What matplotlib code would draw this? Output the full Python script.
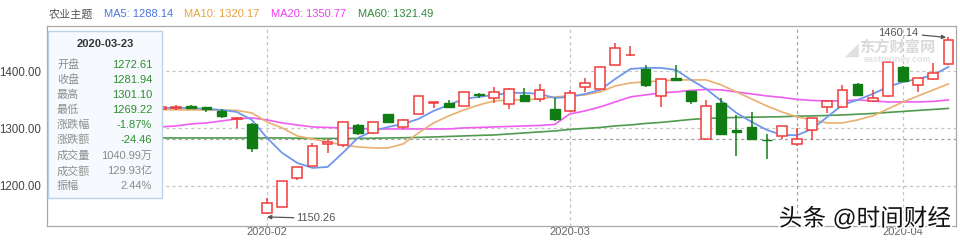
import matplotlib
matplotlib.use("Agg")
import matplotlib.pyplot as plt
import matplotlib.patheffects as pe
from matplotlib.patches import Rectangle

plt.rcParams['font.family'] = ['Liberation Sans', 'Noto Sans CJK SC', 'DejaVu Sans']

# ---------------- data ----------------
# trading-day index, 0 = 2020-02-03
day_index = list(range(-7, 46))
opens = [1334.5, 1336, 1339.5, 1337.6, 1330.6, 1316, 1308,
         1152.5, 1163, 1213.5, 1234.4, 1273, 1271, 1306, 1292, 1325.3, 1303,
         1325.3, 1345, 1344.6, 1339.3, 1359.5, 1353.3, 1342.8, 1358.6, 1351.6, 1334,
         1330.6, 1372.6, 1369, 1411, 1427.5, 1404, 1356.8, 1387.5, 1365.6, 1281.6,
         1344.6, 1296.5, 1302.6, 1280.5, 1286.9, 1272.61, 1297.4, 1337.6, 1337.6, 1377.8,
         1348, 1356.8, 1407.5, 1376, 1386.5, 1412.8]
closes = [1337.5, 1338, 1336, 1334.5, 1322, 1317.5, 1266,
          1169.8, 1208, 1232.7, 1269.4, 1276.4, 1311, 1292, 1311.4, 1311.4, 1315,
          1356.8, 1346.3, 1337.6, 1363.8, 1358, 1363.8, 1369, 1348, 1367.3, 1316.6,
          1362, 1379.5, 1407.5, 1440.7, 1428.5, 1376, 1386.5, 1385.5, 1348, 1339.3,
          1290.4, 1294.5, 1281.6, 1279, 1304.4, 1281.94, 1318.4, 1348, 1367.3, 1358.6,
          1353.3, 1416.3, 1383, 1388.3, 1397, 1454.7]
highs = [1340, 1341, 1341, 1338, 1334, 1320, 1310,
         1178.5, 1208.5, 1233, 1274.7, 1281.6, 1311.5, 1308, 1312, 1326, 1316,
         1357.5, 1346.5, 1349.8, 1364.5, 1362, 1372.6, 1370, 1370.8, 1377.8, 1353.3,
         1367.3, 1388.3, 1408, 1449.5, 1444.2, 1411, 1387, 1411, 1366, 1349.8,
         1353.3, 1323.6, 1328.8, 1290.4, 1305, 1301.10, 1319, 1349, 1376, 1379,
         1367.3, 1417, 1409, 1389, 1414.5, 1460.14]
lows = [1333, 1333, 1335, 1329, 1318, 1301, 1259,
        1150.26, 1162.5, 1210, 1234, 1257, 1267.7, 1288.6, 1291, 1310, 1299,
        1324.5, 1335.8, 1336, 1338.5, 1353.3, 1344.6, 1334, 1347, 1346.3, 1313,
        1328.8, 1363.8, 1368, 1410, 1427, 1372.6, 1337.6, 1383, 1342.8, 1281,
        1289, 1251.9, 1281, 1246.7, 1281.6, 1269.22, 1279.9, 1327, 1336, 1357,
        1347, 1355, 1381, 1363.8, 1385, 1411]

ma_index = list(range(-8, 46))
ma5 = [1335.8, 1335.8, 1335.8, 1335.8, 1334.1, 1332.3, 1328.8, 1314.9,
       1283.4, 1257.2, 1239.7, 1231.0, 1232.7, 1257.2, 1283.4, 1295.6, 1302.6, 1307.9,
       1316.6, 1330.6, 1341.1, 1351.6, 1355.1, 1358.6, 1362.1, 1362.1, 1360.3, 1353.3,
       1355.1, 1360.3, 1367.3, 1386.5, 1404.0, 1405.8, 1405.8, 1402.3, 1384.8, 1369.0,
       1348.1, 1327.1, 1311.4, 1297.4, 1288.6, 1288.14, 1299.1, 1320.1, 1341.1, 1349.8,
       1360.3, 1372.5, 1381.3, 1386.5, 1393.5, 1407.5]
ma10 = [1333, 1333, 1332.5, 1332.3, 1332.3, 1332, 1331.5, 1327.1,
        1311.4, 1300.9, 1286.9, 1281.6, 1276.4, 1271.2, 1267.7, 1265.9, 1265.9, 1272.9,
        1292.1, 1309.6, 1321.9, 1332.3, 1341.1, 1348.1, 1349.8, 1349.8, 1351.6, 1355.1,
        1356.8, 1358.6, 1363.8, 1374.3, 1379.5, 1381.3, 1383.0, 1384.8, 1384.8, 1384.8,
        1376.0, 1363.8, 1351.6, 1339.3, 1328.8, 1320.17, 1314.9, 1309.6, 1309.6, 1314.9,
        1321.9, 1334.1, 1346.3, 1356.8, 1367.3, 1377.8]
ma20 = [1300.9, 1302.6, 1304.4, 1307.9, 1309.6, 1313.1, 1316.6, 1318.4,
        1314.9, 1309.6, 1306.1, 1302.6, 1301.7, 1300.9, 1300.0, 1299.1, 1299.1, 1299.1,
        1299.1, 1299.1, 1299.1, 1300.9, 1301.7, 1302.6, 1303.5, 1304.4, 1305.2, 1307.0,
        1325.3, 1330.6, 1337.6, 1346.3, 1355.1, 1358.6, 1362.1, 1363.8, 1366.4, 1368.2,
        1367.3, 1363.8, 1360.3, 1356.8, 1354.2, 1350.77, 1348.9, 1348.1, 1348.1, 1349.8,
        1348.1, 1346.3, 1346.3, 1346.3, 1347.2, 1349.8]
ma60 = [1283.4, 1283.4, 1283.4, 1283.4, 1283.4, 1283.4, 1283.4, 1283.4,
        1283.4, 1283.4, 1282.9, 1282.5, 1282.5, 1282.5, 1282.5, 1282.9, 1283.4, 1283.7,
        1284.3, 1285.1, 1286.0, 1286.9, 1287.8, 1288.6, 1290.4, 1292.1, 1293.9, 1295.6,
        1298.3, 1300.0, 1301.7, 1304.4, 1306.1, 1308.7, 1310.5, 1313.1, 1315.7, 1317.5,
        1318.4, 1319.2, 1319.6, 1320.1, 1320.5, 1321.49, 1321.9, 1322.7, 1323.6, 1324.8,
        1326.2, 1328.0, 1329.7, 1331.5, 1333.2, 1335.0]

month_ticks = [0, 20, 42]
month_labels = ['2020-02', '2020-03', '2020-04']
y_ticks = [1200, 1300, 1400]

hover_index = 35
hover_date = '2020-03-23'
tip_labels = ['开盘', '收盘', '最高', '最低', '涨跌幅', '涨跌额', '成交量', '成交额', '振幅']
tip_values = ['1272.61', '1281.94', '1301.10', '1269.22', '-1.87%', '-24.46',
              '1040.99万', '129.93亿', '2.44%']
legend_name = '农业主题'
legend_items = ['MA5: 1288.14', 'MA10: 1320.17', 'MA20: 1350.77', 'MA60: 1321.49']

low_label = '1150.26'
high_label = '1460.14'

# ---------------- style ----------------
RED = '#f23b3b'
GREEN = '#0f7d14'
C_MA5 = '#6f98ec'
C_MA10 = '#e9b070'
C_MA20 = '#f05cf0'
C_MA60 = '#4f9a4f'
L_MA5 = '#4a73e0'
L_MA10 = '#e6a23c'
L_MA20 = '#f03cf0'
L_MA60 = '#2f8a3a'

W, H = 960, 240
fig = plt.figure(figsize=(9.6, 2.4), dpi=100)
fig.patch.set_facecolor('white')


def fx(x):
    return x / W


def fy(y):
    return 1 - y / H


ax = fig.add_axes([fx(47), fy(226), fx(956) - fx(47), fy(26) - fy(226)])
ax.set_xlim(-14.53, 45.5)
ax.set_ylim(1129.5, 1479)

for s in ax.spines.values():
    s.set_color('#a9a9a9')
    s.set_linewidth(0.9)

# grid
for v in y_ticks:
    ax.axhline(v, color='#c4c4c4', lw=0.9, ls=(0, (2.5, 2.5)), zorder=0)
for m in month_ticks:
    ax.axvline(m, color='#c4c4c4', lw=0.9, ls=(0, (2.5, 2.5)), zorder=0)
# crosshair
ax.axvline(hover_index, color='#a0a0a0', lw=0.9, ls=(0, (2.5, 2.5)), zorder=0.5)
ax.axhline(closes[day_index.index(hover_index)], color='#a0a0a0', lw=0.9,
           ls=(0, (2.5, 2.5)), zorder=0.5)

# MA lines
ax.plot(ma_index, ma60, color=C_MA60, lw=1.2, zorder=2)
ax.plot(ma_index, ma20, color=C_MA20, lw=1.2, zorder=2)
ax.plot(ma_index, ma10, color=C_MA10, lw=1.2, zorder=2)
ax.plot(ma_index, ma5, color=C_MA5, lw=1.3, zorder=2)

# candles
bw = 0.64
for i, o, c, h, l in zip(day_index, opens, closes, highs, lows):
    top, bot = max(o, c), min(o, c)
    hgt = max(top - bot, 0.9)
    if c >= o:
        ax.vlines(i, top, h, color=RED, lw=1.1, zorder=3)
        ax.vlines(i, l, bot, color=RED, lw=1.1, zorder=3)
        ax.bar(i, hgt, bottom=bot, width=bw, facecolor='white', edgecolor=RED,
               linewidth=1.1, zorder=4)
    else:
        ax.vlines(i, l, h, color=GREEN, lw=1.1, zorder=3)
        ax.bar(i, hgt, bottom=bot, width=bw, facecolor=GREEN, edgecolor=GREEN,
               linewidth=1.0, zorder=4)

# ticks
ax.set_yticks(y_ticks)
ax.set_yticklabels([f'{v:.2f}' for v in y_ticks], fontsize=8.3, color='#444444')
ax.set_xticks(month_ticks)
ax.set_xticklabels(month_labels, fontsize=8, color='#666666')
ax.tick_params(axis='both', length=0)
ax.tick_params(axis='y', pad=4)
ax.tick_params(axis='x', pad=1)

# annotations for extremes
i_low = day_index[lows.index(min(lows))]
i_high = day_index[highs.index(max(highs))]
ax.annotate(low_label, xy=(i_low, min(lows) - 5), xytext=(1.95, 1143),
            fontsize=8, color='#555555', va='center', ha='left',
            arrowprops=dict(arrowstyle='-|>', color='#555555', lw=0.9,
                            mutation_scale=6, shrinkA=0, shrinkB=0), zorder=6)
ax.annotate(high_label, xy=(i_high - 0.15, max(highs) - 1), xytext=(43.0, 1467),
            fontsize=8, color='#555555', va='center', ha='right',
            arrowprops=dict(arrowstyle='-|>', color='#555555', lw=0.9,
                            mutation_scale=6, shrinkA=1, shrinkB=0), zorder=6)

# eastmoney watermark
fig.text(fx(897), fy(47), '东方财富网', fontsize=11, fontweight='bold',
         color='#dadada', ha='center', va='center', zorder=1)
fig.text(fx(897), fy(60), 'eastmoney.com', fontsize=6.5, fontweight='bold',
         color='#e2e2e2', ha='center', va='center', zorder=1)
fig.text(fx(852), fy(50), '◢', fontsize=13, color='#e0e0e0', ha='center',
         va='center', zorder=1, family=['DejaVu Sans'])

# top legend
fig.text(fx(49), fy(14), legend_name, fontsize=8, color='#555555', va='center')
leg_x = [104, 184, 271, 358]
for x0, txt, col in zip(leg_x, legend_items, [L_MA5, L_MA10, L_MA20, L_MA60]):
    fig.text(fx(x0), fy(14), txt, fontsize=8, color=col, va='center')

# tooltip
box = Rectangle((fx(48), fy(198)), fx(162) - fx(48), fy(31) - fy(198),
                transform=fig.transFigure, facecolor='#f6f9fd',
                edgecolor='#b9d3ec', linewidth=1.0, zorder=5)
fig.add_artist(box)
fig.text(fx(105), fy(44), hover_date, fontsize=8, fontweight='bold',
         color='#333333', ha='center', va='center', zorder=6)
row_y = [65, 80, 95, 110, 125, 140, 155.5, 171, 186]
for k, (lab, val, yy) in enumerate(zip(tip_labels, tip_values, row_y)):
    vcol = '#2d8f2d' if k < 6 else '#8a8a8a'
    fig.text(fx(57), fy(yy), lab, fontsize=8, color='#8f8f8f', ha='left',
             va='center', zorder=6)
    fig.text(fx(152), fy(yy), val, fontsize=8, color=vcol, ha='right',
             va='center', zorder=6)

# toutiao watermark
fig.text(fx(865), fy(219), '头条 @时间财经', fontsize=17, color='#111111',
         ha='center', va='center', zorder=10,
         path_effects=[pe.withStroke(linewidth=2.5, foreground='white')])

fig.savefig('out.png', dpi=100)
